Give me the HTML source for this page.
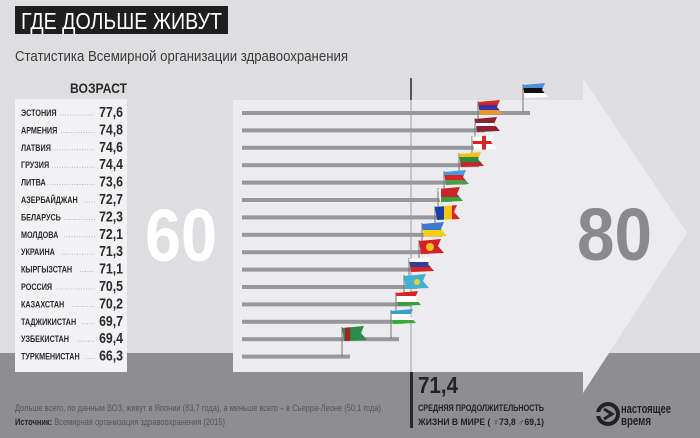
<!DOCTYPE html>
<html><head><meta charset="utf-8"><style>
html,body{margin:0;padding:0;width:700px;height:438px;overflow:hidden;background:#dedee0}
svg{display:block}
text{font-family:"Liberation Sans",sans-serif}
</style></head><body>
<svg width="700" height="438" viewBox="0 0 700 438" xmlns="http://www.w3.org/2000/svg">
<defs>
<clipPath id="fl"><polygon points="0,2 22,0 19,7 25,14 2,15"/></clipPath>
</defs>
<rect width="700" height="438" fill="#dedee0"/>
<rect x="0" y="353" width="700" height="85" fill="#8e8e92"/>
<rect x="233" y="100" width="350" height="272" fill="#ececee"/>
<polygon points="583,78 687,233 583,393" fill="#ececee"/>
<rect x="233" y="78" width="350" height="22" fill="#dedee0"/>
<rect x="410" y="78" width="2" height="22" fill="#555"/>
<rect x="410" y="100" width="2" height="272" fill="#c4c4c6"/>
<rect x="410" y="372" width="3" height="56" fill="#2a2a2a"/>
<rect x="15" y="6" width="213" height="28" fill="#1e1e1e"/>
<text x="21" y="29" font-size="23" fill="#fff" textLength="201" lengthAdjust="spacingAndGlyphs">ГДЕ ДОЛЬШЕ ЖИВУТ</text>
<text x="15" y="61" font-size="15" fill="#3a3a3a" textLength="333" lengthAdjust="spacingAndGlyphs">Статистика Всемирной организации здравоохранения</text>
<text x="70" y="93" font-size="14" font-weight="bold" fill="#2a2a2a" textLength="57" lengthAdjust="spacingAndGlyphs">ВОЗРАСТ</text>
<rect x="15" y="99" width="112" height="273" fill="#f2f2f4"/>
<g stroke="#aaa" stroke-width="0.8" stroke-dasharray="1,1.5">
<line x1="60" y1="115" x2="95" y2="115"/><line x1="61" y1="132.4" x2="95" y2="132.4"/><line x1="52" y1="149.8" x2="95" y2="149.8"/><line x1="52" y1="167.2" x2="95" y2="167.2"/><line x1="47" y1="184.6" x2="95" y2="184.6"/><line x1="84" y1="202" x2="95" y2="202"/><line x1="64" y1="219.4" x2="95" y2="219.4"/><line x1="64" y1="236.8" x2="95" y2="236.8"/><line x1="62" y1="254.2" x2="95" y2="254.2"/><line x1="80" y1="271.6" x2="95" y2="271.6"/><line x1="56" y1="289" x2="95" y2="289"/><line x1="72" y1="306.4" x2="95" y2="306.4"/><line x1="82" y1="323.8" x2="95" y2="323.8"/><line x1="78" y1="341.2" x2="95" y2="341.2"/><line x1="86" y1="358.6" x2="95" y2="358.6"/>
</g>
<g font-size="9.5" font-weight="bold" fill="#2a2a2a" transform="translate(21,0) scale(0.76,1)">
<text x="0" y="116">ЭСТОНИЯ</text><text x="0" y="133.4">АРМЕНИЯ</text><text x="0" y="150.8">ЛАТВИЯ</text><text x="0" y="168.2">ГРУЗИЯ</text><text x="0" y="185.6">ЛИТВА</text><text x="0" y="203">АЗЕРБАЙДЖАН</text><text x="0" y="220.4">БЕЛАРУСЬ</text><text x="0" y="237.8">МОЛДОВА</text><text x="0" y="255.2">УКРАИНА</text><text x="0" y="272.6">КЫРГЫЗСТАН</text><text x="0" y="290">РОССИЯ</text><text x="0" y="307.4">КАЗАХСТАН</text><text x="0" y="324.8">ТАДЖИКИСТАН</text><text x="0" y="342.2">УЗБЕКИСТАН</text><text x="0" y="359.6">ТУРКМЕНИСТАН</text>
</g>
<g font-size="15" font-weight="bold" fill="#2a2a2a" text-anchor="end" transform="translate(123,0) scale(0.82,1)">
<text x="0" y="117">77,6</text><text x="0" y="134.4">74,8</text><text x="0" y="151.8">74,6</text><text x="0" y="169.2">74,4</text><text x="0" y="186.6">73,6</text><text x="0" y="204">72,7</text><text x="0" y="221.4">72,3</text><text x="0" y="238.8">72,1</text><text x="0" y="256.2">71,3</text><text x="0" y="273.6">71,1</text><text x="0" y="291">70,5</text><text x="0" y="308.4">70,2</text><text x="0" y="325.8">69,7</text><text x="0" y="343.2">69,4</text><text x="0" y="360.6">66,3</text>
</g>
<text x="145" y="261" font-size="74" font-weight="bold" fill="#fff" textLength="72" lengthAdjust="spacingAndGlyphs">60</text>
<text x="577" y="260" font-size="74" font-weight="bold" fill="#8a8a8e" textLength="75" lengthAdjust="spacingAndGlyphs">80</text>
<g fill="#98989c">
<rect x="242" y="111" width="288" height="4"/><rect x="242" y="128.4" width="243" height="4"/><rect x="242" y="145.8" width="240" height="4"/><rect x="242" y="163.2" width="237" height="4"/><rect x="242" y="180.6" width="224" height="4"/><rect x="242" y="198" width="210" height="4"/><rect x="242" y="215.4" width="203" height="4"/><rect x="242" y="232.8" width="200" height="4"/><rect x="242" y="250.2" width="187" height="4"/><rect x="242" y="267.6" width="184" height="4"/><rect x="242" y="285" width="175" height="4"/><rect x="242" y="302.4" width="170" height="4"/><rect x="242" y="319.8" width="162" height="4"/><rect x="242" y="337.2" width="157" height="4"/><rect x="242" y="354.6" width="108" height="4"/>
</g>
<g stroke="#777" stroke-width="1">
<line x1="523" y1="84" x2="523" y2="113"/><line x1="478" y1="101" x2="478" y2="130"/><line x1="475" y1="118" x2="475" y2="148"/><line x1="472" y1="136" x2="472" y2="165"/><line x1="459" y1="153" x2="459" y2="183"/><line x1="444" y1="171" x2="444" y2="200"/><line x1="438" y1="188" x2="438" y2="217"/><line x1="435" y1="206" x2="435" y2="235"/><line x1="422" y1="223" x2="422" y2="252"/><line x1="419" y1="240" x2="419" y2="270"/><line x1="409" y1="258" x2="409" y2="287"/><line x1="404" y1="275" x2="404" y2="304"/><line x1="396" y1="292" x2="396" y2="322"/><line x1="391" y1="310" x2="391" y2="339"/><line x1="342" y1="327" x2="342" y2="357"/>
</g>
<g clip-path="url(#fl)" transform="translate(523,83)"><rect width="26" height="5" fill="#4a8fd8"/><rect y="5" width="26" height="5" fill="#111"/><rect y="10" width="26" height="6" fill="#fff"/></g>
<g clip-path="url(#fl)" transform="translate(478,100)"><rect width="26" height="5" fill="#d22"/><rect y="5" width="26" height="5" fill="#33a"/><rect y="10" width="26" height="6" fill="#e9962d"/></g>
<g clip-path="url(#fl)" transform="translate(475,117)"><rect width="26" height="16" fill="#8a2232"/><rect y="6" width="26" height="3" fill="#fff"/></g>
<g clip-path="url(#fl)" transform="translate(472,135)"><rect width="26" height="16" fill="#fff"/><rect x="10" width="4" height="16" fill="#d22"/><rect y="6" width="26" height="3" fill="#d22"/></g>
<g clip-path="url(#fl)" transform="translate(459,152)"><rect width="26" height="5" fill="#f2c218"/><rect y="5" width="26" height="5" fill="#2b8a3e"/><rect y="10" width="26" height="6" fill="#c1272d"/></g>
<g clip-path="url(#fl)" transform="translate(444,170)"><rect width="26" height="5" fill="#3fa0dc"/><rect y="5" width="26" height="5" fill="#d22"/><rect y="10" width="26" height="6" fill="#4a9d4a"/></g>
<g clip-path="url(#fl)" transform="translate(438,187)"><rect width="26" height="10" fill="#c8262c"/><rect y="10" width="26" height="6" fill="#3c9d3c"/><rect width="3" height="16" fill="#fff"/></g>
<g clip-path="url(#fl)" transform="translate(435,205)"><rect width="9" height="16" fill="#1c3ea0"/><rect x="9" width="8" height="16" fill="#f5c518"/><rect x="17" width="9" height="16" fill="#d22"/></g>
<g clip-path="url(#fl)" transform="translate(422,222)"><rect width="26" height="8" fill="#3b78d0"/><rect y="8" width="26" height="8" fill="#f5d018"/></g>
<g clip-path="url(#fl)" transform="translate(419,239)"><rect width="26" height="16" fill="#d4202a"/><circle cx="11" cy="8" r="4" fill="#f5c518"/></g>
<g clip-path="url(#fl)" transform="translate(409,257)"><rect width="26" height="5" fill="#fff"/><rect y="5" width="26" height="5" fill="#2a3fa0"/><rect y="10" width="26" height="6" fill="#d22"/></g>
<g clip-path="url(#fl)" transform="translate(404,274)"><rect width="26" height="16" fill="#3fb1d2"/><circle cx="13" cy="8" r="3" fill="#e8d030"/></g>
<g clip-path="url(#fl)" transform="translate(396,291)"><rect width="26" height="5" fill="#d22"/><rect y="5" width="26" height="6" fill="#fff"/><rect y="11" width="26" height="5" fill="#3a9d3a"/></g>
<g clip-path="url(#fl)" transform="translate(391,309)"><rect width="26" height="5" fill="#3a9fd0"/><rect y="5" width="26" height="6" fill="#fff"/><rect y="11" width="26" height="5" fill="#3aaa3a"/></g>
<g clip-path="url(#fl)" transform="translate(342,326)"><rect width="26" height="16" fill="#2a8a4a"/><rect x="3" width="5" height="16" fill="#a82020"/></g>
<text x="418" y="393" font-size="23" font-weight="bold" fill="#222" textLength="40" lengthAdjust="spacingAndGlyphs">71,4</text>
<text x="418" y="411" font-size="9" font-weight="bold" fill="#222" textLength="126" lengthAdjust="spacingAndGlyphs">СРЕДНЯЯ ПРОДОЛЖИТЕЛЬНОСТЬ</text>
<text x="418" y="425" font-size="9" font-weight="bold" fill="#222" textLength="126" lengthAdjust="spacingAndGlyphs">ЖИЗНИ В МИРЕ ( ♀73,8  ♂69,1)</text>
<text x="15" y="411" font-size="9" fill="#555" textLength="368" lengthAdjust="spacingAndGlyphs">Дольше всего, по данным ВОЗ, живут в Японии (83,7 года), а меньше всего – в Сьерра-Леоне (50,1 года).</text>
<text x="15" y="425" font-size="9" fill="#555" textLength="210" lengthAdjust="spacingAndGlyphs"><tspan font-weight="bold" fill="#222">Источник:</tspan> Всемирная организация здравоохранения (2015)</text>
<circle cx="608" cy="414" r="10" fill="none" stroke="#222" stroke-width="4"/>
<path d="M604 409 L612 414 L604 419" fill="none" stroke="#222" stroke-width="3"/>
<rect x="596" y="412" width="8" height="4" fill="#8e8e92"/>
<text x="621" y="413" font-size="13" font-weight="bold" fill="#222" textLength="50" lengthAdjust="spacingAndGlyphs">настоящее</text>
<text x="621" y="425" font-size="13" font-weight="bold" fill="#222" textLength="30" lengthAdjust="spacingAndGlyphs">время</text>
</svg>
</body></html>
